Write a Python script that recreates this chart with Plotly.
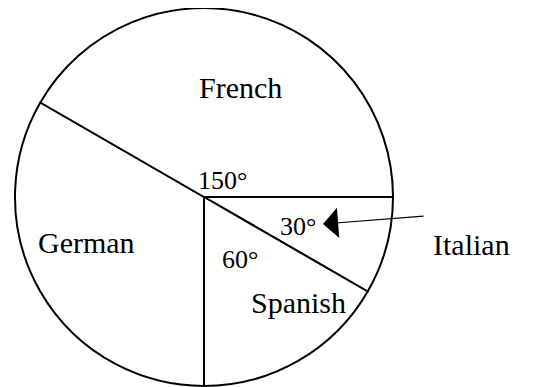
import plotly.graph_objects as go

W, H = 549, 387
OFF = 8  # page body margin in the browser

labels = ["Italian", "Spanish", "German", "French"]
angles = [30, 60, 120, 150]

name_text = ["French", "German", "Spanish", "Italian"]
name_px = [(240, 87), (86, 242), (298, 302), (471, 244)]
deg_text = ["150°", "30°", "60°"]
deg_px = [(222, 180), (298, 226), (240, 259)]

def px(x, y):
    return (x - OFF) / W, 1 - (y - OFF) / H

cx, cy, r = 204 - OFF, 197 - OFF, 189
fig = go.Figure(go.Pie(
    labels=labels, values=angles, sort=False, direction="clockwise", rotation=90,
    textinfo="none", hoverinfo="skip", showlegend=False,
    marker=dict(colors=["white"] * 4, line=dict(color="black", width=2)),
    domain=dict(x=[(cx - r) / W, (cx + r) / W],
                y=[max(0, (H - cy - r) / H), min(1, (H - cy + r) / H)]),
))

fam = "Liberation Serif, Times New Roman, serif"
for t, (x, y) in zip(name_text, name_px):
    xx, yy = px(x, y)
    fig.add_annotation(x=xx, y=yy, xref="paper", yref="paper", text=t, showarrow=False,
                       font=dict(family=fam, size=30, color="black"),
                       xanchor="center", yanchor="middle")
for t, (x, y) in zip(deg_text, deg_px):
    xx, yy = px(x, y)
    fig.add_annotation(x=xx, y=yy, xref="paper", yref="paper", text=t, showarrow=False,
                       font=dict(family=fam, size=26, color="black"),
                       xanchor="center", yanchor="middle")

tipx, tipy = px(323, 224)
fig.add_annotation(x=tipx, y=tipy, xref="paper", yref="paper", text="", showarrow=True,
                   ax=102, ay=-8, arrowhead=1, arrowsize=4.2, arrowwidth=1.2, arrowcolor="black")

fig.update_layout(width=W, height=H, margin=dict(l=0, r=0, t=0, b=0),
                  paper_bgcolor="white", plot_bgcolor="white")
fig.write_html("out.html")
